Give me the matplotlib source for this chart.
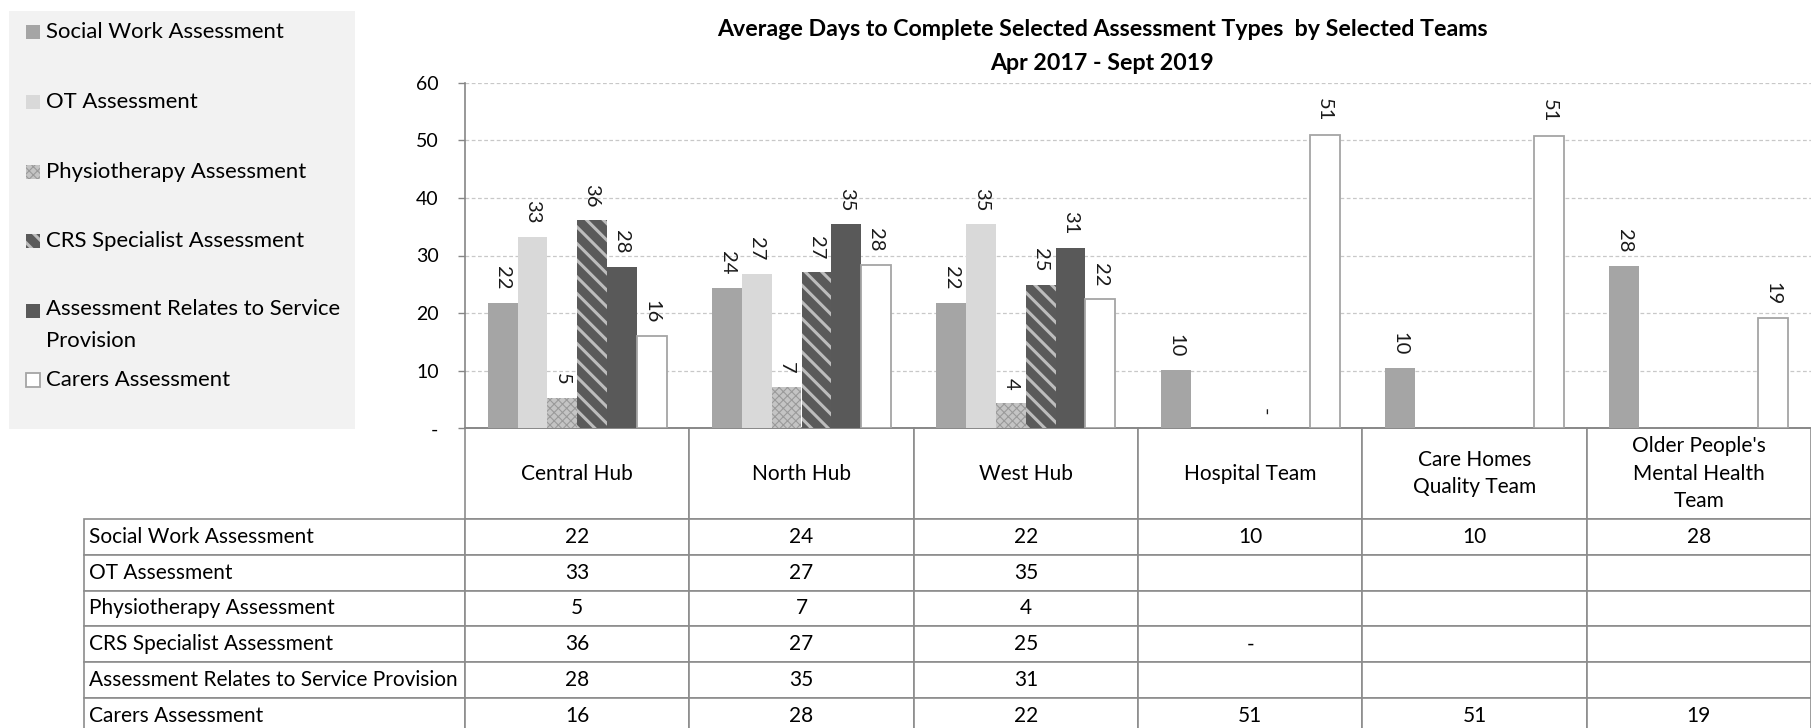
import numpy as np
import matplotlib
matplotlib.use("Agg")
from matplotlib import pyplot as plt
from matplotlib.patches import Rectangle

plt.rcParams['font.family'] = ['Lato', 'DejaVu Sans']

# data (nan = no value)
teams = ['Central Hub', 'North Hub', 'West Hub', 'Hospital Team',
         'Care Homes\nQuality Team', "Older People's\nMental Health\nTeam"]
series_names = ['Social Work Assessment', 'OT Assessment', 'Physiotherapy Assessment',
                'CRS Specialist Assessment', 'Assessment Relates to Service Provision',
                'Carers Assessment']
nan = np.nan
social_work = [21.8, 24.4, 21.8, 10.1, 10.4, 28.2]
ot = [33.2, 26.8, 35.4, nan, nan, nan]
physio = [5.3, 7.2, 4.4, nan, nan, nan]
crs = [36.1, 27.1, 24.9, 0, nan, nan]
service_provision = [28.0, 35.4, 31.3, nan, nan, nan]
carers = [16.0, 28.4, 22.4, 51.0, 50.8, 19.1]
yticks = [0, 10, 20, 30, 40, 50, 60]
ytick_labels = ['-', '10', '20', '30', '40', '50', '60']

all_series = [social_work, ot, physio, crs, service_provision, carers]

styles = [
    dict(color='#A5A5A5', edgecolor='#A5A5A5', linewidth=0),
    dict(color='#D9D9D9', edgecolor='#D9D9D9', linewidth=0),
    dict(color='#C4C4C4', edgecolor='#9A9A9A', hatch='xxxx', linewidth=0, hatch_linewidth=0.8),
    dict(color='#5A5A5A', edgecolor='#BDBDBD', hatch='\\\\', linewidth=0, hatch_linewidth=2.2),
    dict(color='#595959', edgecolor='#595959', linewidth=0),
    dict(color='white', edgecolor='#A5A5A5', linewidth=1.3),
]


def fmt(v):
    if np.isnan(v):
        return ''
    if round(v) == 0:
        return '-'
    return f'{v:.0f}'


W, H = 1811, 728
fig = plt.figure(figsize=(W / 100, H / 100), dpi=100)
ax = fig.add_axes([465 / W, (H - 428.3) / H, 1346 / W, 345.6 / H])

x = np.arange(len(teams))
width = 0.1328
for i, (vals, st) in enumerate(zip(all_series, styles)):
    vals = np.array(vals, dtype=float)
    pos = x + (i - 2.5) * width
    bars = ax.bar(pos, np.nan_to_num(vals), width, zorder=3, **st)
    for xp, v in zip(pos, vals):
        if np.isnan(v):
            continue
        ax.annotate(fmt(v), (xp, v), xytext=(0, 9.5), textcoords='offset points',
                    ha='center', va='bottom', rotation=-90, fontsize=14.5, color='#1a1a1a')

ax.set_xlim(-0.5, len(teams) - 0.5)
ax.set_ylim(0, 60)
ax.set_yticks(yticks)
ax.set_yticklabels(ytick_labels)
ax.tick_params(axis='y', length=5, width=1, color='#868686', pad=14, labelsize=14)
ax.set_xticks([])
ax.yaxis.grid(True, linestyle=(0, (3, 2)), color='#C8C8C8', linewidth=0.9, zorder=0)
for s in ['top', 'right']:
    ax.spines[s].set_visible(False)
for s in ['left', 'bottom']:
    ax.spines[s].set_color('#868686')
    ax.spines[s].set_linewidth(1.2)

# data table under the plot; first column holds the series names
cell_text = [[name] + [fmt(v) for v in vals] for name, vals in zip(series_names, all_series)]
col_w = 1346 / 6
table = ax.table(cellText=cell_text, colLabels=[''] + teams,
                 colWidths=[381] + [col_w] * 6, cellLoc='center', colLoc='center',
                 bbox=[-381 / 1346, -305.5 / 345.6, 1727 / 1346, 305.5 / 345.6])
table.auto_set_font_size(False)
table.set_fontsize(15)
for (r, c), cell in table.get_celld().items():
    cell.set_edgecolor('#8C8C8C')
    cell.set_linewidth(1.2)
    cell.set_height(90.7 if r == 0 else 35.8)
    if r == 0:
        cell.get_text().set_linespacing(1.45)
    if c == 0:
        cell.get_text().set_horizontalalignment('left')
        cell.PAD = 0.012
        if r == 0:
            cell.visible_edges = ''

# title
fig.text(1102 / W, 1 - 30 / H, 'Average Days to Complete Selected Assessment Types  by Selected Teams',
         ha='center', va='center', fontsize=16.7, fontweight='bold')
fig.text(1102 / W, 1 - 63 / H, 'Apr 2017 - Sept 2019',
         ha='center', va='center', fontsize=16.7, fontweight='bold')

# legend panel on the left
fig.patches.append(Rectangle((9 / W, 1 - 429 / H), 346 / W, 418 / H,
                             transform=fig.transFigure, facecolor='#F2F2F2',
                             edgecolor='none', zorder=0))
legend_labels = ['Social Work Assessment', 'OT Assessment', 'Physiotherapy Assessment',
                 'CRS Specialist Assessment', 'Assessment Relates to Service\nProvision',
                 'Carers Assessment']
legend_y = [32, 102, 172, 241, 311, 380]
for lab, ly, st in zip(legend_labels, legend_y, styles):
    st2 = dict(st)
    fc = st2.pop('color')
    lw = st2.pop('linewidth')
    fig.patches.append(Rectangle((26 / W, 1 - (ly + 7) / H), 14 / W, 14 / H,
                                 transform=fig.transFigure, facecolor=fc,
                                 linewidth=max(lw, 0.8) if fc == 'white' else lw,
                                 zorder=2, **st2))
    if '\n' in lab:
        fig.text(46 / W, 1 - (ly - 12) / H, lab, ha='left', va='top', fontsize=15.9,
                 linespacing=1.75)
    else:
        fig.text(46 / W, 1 - ly / H, lab, ha='left', va='center', fontsize=15.9)

fig.savefig('out.png', dpi=100)
